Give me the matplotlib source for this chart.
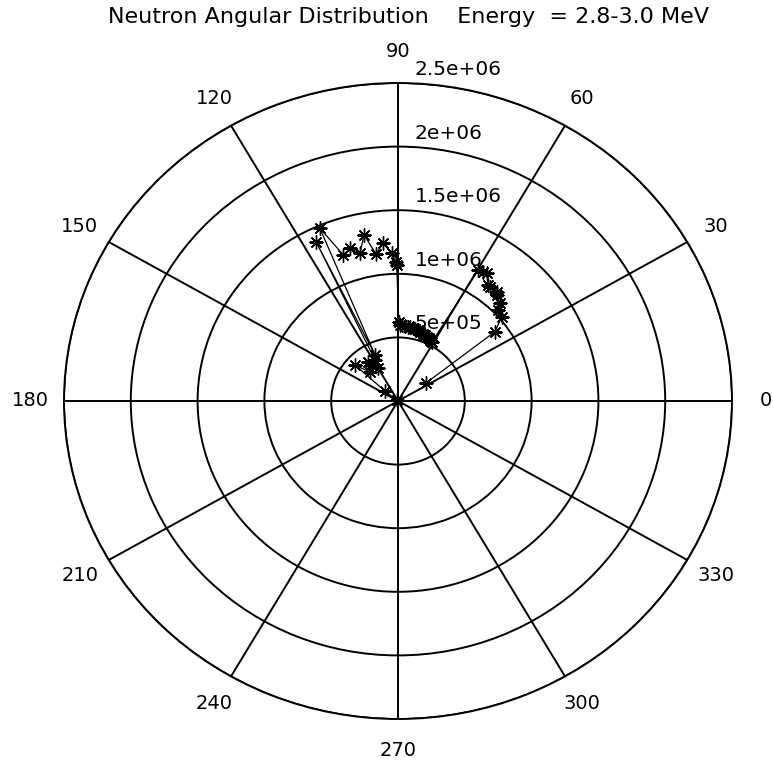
import numpy as np
import matplotlib
matplotlib.use("Agg")
import matplotlib.pyplot as plt
from matplotlib.transforms import offset_copy

plt.rcParams['font.family'] = ['DejaVu Sans']

# Measured neutron yield versus scattering angle (degrees), 2.8-3.0 MeV bin
angle_deg = [34.0, 36.9, 40.5, 43.6, 45.2, 48.4, 49.3, 52.5, 53.5, 56.5, 57.9, 59.7,
             61.3, 62.4, 63.5, 65.0, 66.9, 68.5, 70.3, 73.2, 75.0, 77.3, 79.0, 81.2,
             83.0, 85.0, 87.0, 88.6, 89.5,
             90.5, 90.8, 92.3, 95.1, 98.1, 101.0, 103.8, 106.7, 109.6, 113.3,
             115.4, 116.1, 118.0, 120.0, 124.5, 126.2, 132.6, 138.7, 141.0, 145.0]
yield_counts = [0.253e6, 0.908e6, 1.021e6, 1.037e6, 1.083e6, 1.114e6, 1.133e6, 1.132e6,
                1.135e6, 1.204e6, 1.200e6, 1.192e6,
                0.529e6, 0.532e6, 0.536e6, 0.543e6, 0.549e6, 0.555e6, 0.560e6, 0.569e6,
                0.574e6, 0.578e6, 0.582e6, 0.586e6, 0.590e6, 0.592e6, 0.595e6, 0.598e6,
                0.620e6,
                1.069e6, 1.095e6, 1.162e6, 1.245e6, 1.167e6, 1.330e6, 1.196e6, 1.253e6,
                1.219e6, 1.478e6,
                0.400e6, 1.395e6, 0.365e6, 0.300e6, 0.344e6, 0.380e6, 0.310e6, 0.428e6,
                0.130e6, 0.010e6]

angle_ticks = list(range(0, 360, 30))
radial_ticks = [5e5, 1e6, 1.5e6, 2e6, 2.5e6]
radial_labels = ['5e+05', '1e+06', '1.5e+06', '2e+06', '2.5e+06']
r_max = 2.5e6
title_text = "Neutron Angular Distribution    Energy  = 2.8-3.0 MeV"

fig = plt.figure(figsize=(7.73, 7.70), dpi=100)
ax = fig.add_axes([64 / 773, (770 - 719) / 770, 668 / 773, 636 / 770], projection='polar')
ax.set_aspect('auto')

theta = np.deg2rad(angle_deg)
# eight-armed asterisk markers joined by a thin line
ax.plot(theta, yield_counts, color='black', linewidth=0.9, marker=(8, 2, 0),
        markersize=10, markeredgewidth=1.0, zorder=5)

ax.set_ylim(0, r_max)
ax.set_rticks(radial_ticks)
ax.set_yticklabels([])
ax.set_thetagrids(angle_ticks, labels=[''] * len(angle_ticks))
ax.tick_params(length=0)
ax.grid(True, color='black', linewidth=1.4, linestyle='-')
ax.spines['polar'].set_linewidth(1.4)

# angle labels just outside the outer ring
for a in angle_ticks:
    ax.text(np.deg2rad(a), 1.1 * r_max, str(a), ha='center', va='center',
            fontsize=14, clip_on=False)

# ring labels beside the vertical axis
lbl_tr = offset_copy(ax.transData, fig=fig, x=17, y=8, units='dots')
for r, lab in zip(radial_ticks, radial_labels):
    ax.text(np.pi / 2, r, lab, transform=lbl_tr, ha='left', va='baseline',
            fontsize=14.5, clip_on=False)

fig.text(408 / 773, 1 - 17 / 770, title_text, ha='center', va='center', fontsize=16)

fig.savefig('out.png', dpi=100)
